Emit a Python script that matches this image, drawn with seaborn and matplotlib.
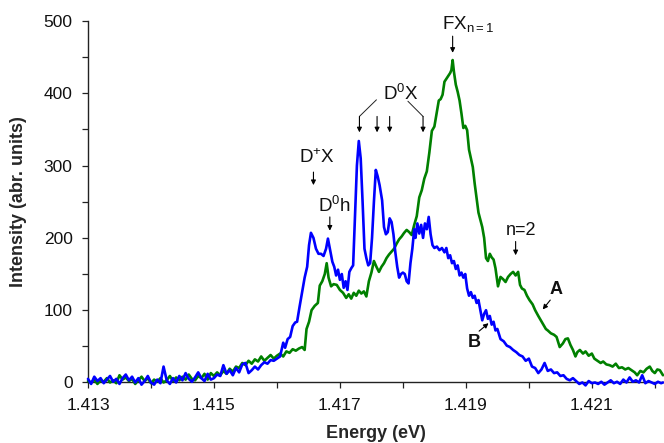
import numpy as np
import pandas as pd
import matplotlib
matplotlib.use("Agg")
import matplotlib.pyplot as plt
from matplotlib.ticker import FixedLocator, FormatStrFormatter
import seaborn as sns

# ---- photoluminescence spectra (energy in eV, intensity in arbitrary units) ----
energy_a = [
    1.41300, 1.41305, 1.41310, 1.41315, 1.41320, 1.41325, 1.41330, 1.41335, 1.41340, 1.41345,
    1.41350, 1.41355, 1.41360, 1.41365, 1.41370, 1.41375, 1.41380, 1.41385, 1.41390, 1.41395,
    1.41400, 1.41405, 1.41410, 1.41415, 1.41420, 1.41425, 1.41430, 1.41435, 1.41440, 1.41445,
    1.41450, 1.41455, 1.41460, 1.41465, 1.41470, 1.41475, 1.41480, 1.41485, 1.41490, 1.41495,
    1.41500, 1.41505, 1.41510, 1.41515, 1.41520, 1.41525, 1.41530, 1.41535, 1.41540, 1.41545,
    1.41550, 1.41555, 1.41560, 1.41565, 1.41570, 1.41575, 1.41580, 1.41585, 1.41590, 1.41595,
    1.41600, 1.41605, 1.41610, 1.41615, 1.41620, 1.41625, 1.41630, 1.41635, 1.41640, 1.41644,
    1.41647, 1.41651, 1.41655, 1.41660, 1.41665, 1.41668, 1.41672, 1.41676, 1.41679, 1.41682,
    1.41686, 1.41690, 1.41695, 1.41700, 1.41705, 1.41710, 1.41714, 1.41718, 1.41722, 1.41726,
    1.41730, 1.41734, 1.41738, 1.41742, 1.41746, 1.41750, 1.41754, 1.41758, 1.41762, 1.41766,
    1.41770, 1.41774, 1.41778, 1.41782, 1.41786, 1.41790, 1.41794, 1.41798, 1.41802, 1.41806,
    1.41810, 1.41814, 1.41818, 1.41822, 1.41826, 1.41830, 1.41834, 1.41838, 1.41842, 1.41846,
    1.41850, 1.41854, 1.41857, 1.41860, 1.41863, 1.41866, 1.41869, 1.41872, 1.41875, 1.41877,
    1.41879, 1.41881, 1.41884, 1.41887, 1.41890, 1.41893, 1.41896, 1.41899, 1.41902, 1.41905,
    1.41908, 1.41911, 1.41914, 1.41917, 1.41920, 1.41923, 1.41926, 1.41929, 1.41932, 1.41935,
    1.41938, 1.41941, 1.41944, 1.41947, 1.41951, 1.41955, 1.41959, 1.41963, 1.41967, 1.41971,
    1.41975, 1.41979, 1.41983, 1.41986, 1.41989, 1.41993, 1.41997, 1.42001, 1.42006, 1.42010,
    1.42015, 1.42019, 1.42023, 1.42027, 1.42030, 1.42035, 1.42040, 1.42044, 1.42049, 1.42054,
    1.42058, 1.42062, 1.42066, 1.42070, 1.42074, 1.42077, 1.42081, 1.42086, 1.42090, 1.42095,
    1.42100, 1.42104, 1.42109, 1.42114, 1.42118, 1.42123, 1.42128, 1.42133, 1.42138, 1.42143,
    1.42148, 1.42153, 1.42158, 1.42163, 1.42168, 1.42172, 1.42177, 1.42182, 1.42187, 1.42192,
    1.42196, 1.42200, 1.42204, 1.42208, 1.42213,
]
intensity_a = [
    2, 0, 4, -2, 3, 1, 6, 0, 3, -1,
    10, 4, 7, 2, 5, -2, 3, 8, 2, 6,
    -1, 4, 1, 6, 0, 3, 9, 2, 7, 3,
    8, 4, 11, 5, 3, 9, 6, 12, 4, 13,
    9, 14, 10, 16, 12, 19, 15, 22, 20, 27,
    24, 30, 26, 32, 29, 36, 30, 34, 38, 33,
    37, 40, 36, 43, 41, 46, 44, 47, 49, 45,
    74, 84, 100, 106, 110, 134, 140, 150, 165, 145,
    133, 136, 135, 128, 124, 117, 122, 116, 124, 120,
    127, 123, 126, 119, 140, 152, 168, 160, 153, 160,
    165, 172, 177, 181, 185, 192, 198, 202, 207, 211,
    208, 204, 218, 230, 256, 266, 282, 292, 318, 348,
    354, 375, 390, 392, 398, 416, 420, 424, 428, 432,
    446, 430, 412, 402, 390, 372, 352, 355, 349, 322,
    310, 298, 275, 255, 235, 225, 215, 200, 172, 168,
    178, 173, 170, 158, 133, 146, 143, 139, 146, 150,
    153, 148, 153, 135, 130, 128, 120, 114, 108, 100,
    92, 86, 80, 74, 72, 68, 66, 63, 49, 54,
    60, 61, 52, 45, 36, 42, 45, 40, 43, 37,
    40, 33, 30, 27, 29, 25, 24, 22, 26, 20,
    21, 18, 20, 17, 14, 10, 16, 14, 19, 22,
    16, 13, 18, 17, 10,
]

energy_b = [
    1.41300, 1.41305, 1.41310, 1.41315, 1.41320, 1.41325, 1.41330, 1.41335, 1.41340, 1.41345,
    1.41350, 1.41355, 1.41360, 1.41365, 1.41370, 1.41375, 1.41380, 1.41385, 1.41390, 1.41395,
    1.41400, 1.41405, 1.41410, 1.41415, 1.41420, 1.41425, 1.41430, 1.41435, 1.41440, 1.41445,
    1.41450, 1.41455, 1.41460, 1.41465, 1.41470, 1.41475, 1.41480, 1.41485, 1.41490, 1.41495,
    1.41500, 1.41505, 1.41510, 1.41515, 1.41520, 1.41525, 1.41530, 1.41535, 1.41540, 1.41545,
    1.41550, 1.41555, 1.41560, 1.41565, 1.41570, 1.41575, 1.41580, 1.41585, 1.41590, 1.41595,
    1.41600, 1.41605, 1.41610, 1.41613, 1.41617, 1.41621, 1.41625, 1.41629, 1.41632, 1.41636,
    1.41640, 1.41644, 1.41648, 1.41651, 1.41654, 1.41658, 1.41662, 1.41666, 1.41670, 1.41674,
    1.41678, 1.41681, 1.41684, 1.41688, 1.41691, 1.41694, 1.41697, 1.41700, 1.41703, 1.41706,
    1.41709, 1.41712, 1.41715, 1.41718, 1.41721, 1.41724, 1.41727, 1.41730, 1.41733, 1.41736,
    1.41739, 1.41742, 1.41745, 1.41748, 1.41751, 1.41754, 1.41757, 1.41760, 1.41763, 1.41767,
    1.41770, 1.41773, 1.41776, 1.41779, 1.41782, 1.41785, 1.41788, 1.41791, 1.41794, 1.41797,
    1.41800, 1.41803, 1.41806, 1.41809, 1.41812, 1.41815, 1.41818, 1.41820, 1.41823, 1.41826,
    1.41829, 1.41832, 1.41835, 1.41838, 1.41841, 1.41844, 1.41847, 1.41850, 1.41854, 1.41858,
    1.41862, 1.41866, 1.41869, 1.41872, 1.41875, 1.41878, 1.41881, 1.41884, 1.41887, 1.41890,
    1.41893, 1.41896, 1.41899, 1.41902, 1.41905, 1.41908, 1.41911, 1.41914, 1.41917, 1.41920,
    1.41923, 1.41926, 1.41929, 1.41932, 1.41935, 1.41938, 1.41941, 1.41944, 1.41947, 1.41950,
    1.41955, 1.41960, 1.41965, 1.41970, 1.41975, 1.41980, 1.41985, 1.41990, 1.41995, 1.42000,
    1.42005, 1.42010, 1.42015, 1.42020, 1.42025, 1.42030, 1.42035, 1.42040, 1.42045, 1.42050,
    1.42055, 1.42060, 1.42065, 1.42070, 1.42075, 1.42080, 1.42085, 1.42090, 1.42095, 1.42100,
    1.42105, 1.42110, 1.42115, 1.42120, 1.42125, 1.42130, 1.42135, 1.42140, 1.42145, 1.42150,
    1.42155, 1.42160, 1.42165, 1.42170, 1.42175, 1.42180, 1.42185, 1.42190, 1.42195, 1.42200,
    1.42205, 1.42210, 1.42213,
]
intensity_b = [
    5, -2, 8, 2, 6, -1, 4, 9, 1, 5,
    -2, 6, 11, 3, 8, 0, 6, -3, 2, 9,
    0, -3, 4, -1, 22, 3, -2, 6, 0, 9,
    3, 13, 5, 1, 7, 14, 6, 2, 12, 4,
    6, 11, 9, 24, 12, 17, 10, 20, 14, 25,
    27, 13, 17, 22, 18, 24, 28, 26, 31, 30,
    33, 36, 55, 48, 60, 63, 78, 83, 84, 105,
    125, 145, 160, 190, 207, 200, 185, 178, 178, 175,
    185, 199, 185, 167, 160, 148, 156, 142, 150, 131,
    140, 128, 153, 158, 162, 230, 300, 334, 310, 250,
    185, 172, 162, 165, 200, 250, 294, 285, 273, 252,
    215, 205, 208, 227, 222, 205, 180, 160, 145, 150,
    152, 150, 140, 137, 165, 185, 212, 200, 220, 206,
    218, 200, 220, 212, 229, 205, 190, 186, 188, 183,
    186, 180, 186, 172, 176, 165, 168, 157, 162, 148,
    152, 145, 150, 130, 120, 125, 117, 120, 110, 114,
    100, 86, 95, 100, 88, 92, 80, 84, 72, 74,
    60, 57, 51, 49, 45, 42, 38, 36, 30, 33,
    22, 20, 13, 18, 27, 16, 18, 13, 14, 9,
    10, 5, 3, 6, 2, -2, 0, -4, 2, -1,
    0, -2, 1, -3, 0, 3, -1, 1, -2, 4,
    0, 7, 1, 3, 0, 10, -1, 2, 0, -2,
    1, -1, 0,
]

series_labels = ["A", "B"]
series_colors = ["#008000", "#0000FF"]

energy_ticks = [1.413, 1.415, 1.417, 1.419, 1.421]
energy_minor_ticks = [1.414, 1.416, 1.418, 1.420, 1.422]
intensity_ticks = [0, 100, 200, 300, 400, 500]
intensity_minor_ticks = [50, 150, 250, 350, 450]

frames = [
    pd.DataFrame({"Energy (eV)": energy_a, "Intensity": intensity_a, "sample": "A"}),
    pd.DataFrame({"Energy (eV)": energy_b, "Intensity": intensity_b, "sample": "B"}),
]
spectra = pd.concat(frames, ignore_index=True)

sns.set_theme(style="ticks")
plt.rcParams["font.family"] = ["Liberation Sans", "DejaVu Sans"]
plt.rcParams["mathtext.fontset"] = "custom"
plt.rcParams["mathtext.rm"] = "Liberation Sans"
plt.rcParams["mathtext.it"] = "Liberation Sans"

fig = plt.figure(figsize=(6.64, 4.43), dpi=100)
ax = fig.add_axes([0.1325, 0.1366, 0.866, 0.816])

sns.lineplot(
    data=spectra, x="Energy (eV)", y="Intensity", hue="sample",
    palette=dict(zip(series_labels, series_colors)), hue_order=series_labels,
    estimator=None, sort=False, linewidth=1.9, legend=False, ax=ax,
)
for line in ax.lines:
    line.set_clip_on(False)
    line.set_solid_joinstyle("round")

ax.set_xlim(1.413, 1.42213)
ax.set_ylim(0, 500)
ax.xaxis.set_major_locator(FixedLocator(energy_ticks))
ax.xaxis.set_minor_locator(FixedLocator(energy_minor_ticks))
ax.xaxis.set_major_formatter(FormatStrFormatter("%.3f"))
ax.yaxis.set_major_locator(FixedLocator(intensity_ticks))
ax.yaxis.set_minor_locator(FixedLocator(intensity_minor_ticks))

for side in ("top", "right"):
    ax.spines[side].set_visible(False)
for side in ("left", "bottom"):
    ax.spines[side].set_color("#222222")
    ax.spines[side].set_linewidth(1.0)
    ax.spines[side].set_zorder(0.5)

ax.tick_params(which="both", direction="out", length=4.5, width=0.9,
               color="#222222", labelsize=12.5, labelcolor="#111111", pad=6.5)
ax.tick_params(axis="x", pad=6.5)

ax.set_xlabel("Energy (eV)", fontsize=13, fontweight="bold", labelpad=9)
ax.set_ylabel("Intensity (abr. units)", fontsize=13, fontweight="bold", labelpad=12)

arrow_kw = dict(arrowstyle="-|>", color="black", lw=0.8, mutation_scale=7,
                shrinkA=0, shrinkB=0)
txt = dict(color="#111111", fontsize=13.5)

# free exciton n=1
ax.text(1.41862, 489, r"FX$_{\mathregular{n{=}1}}$", ha="left", va="baseline", **txt)
ax.annotate("", xy=(1.41879, 456), xytext=(1.41879, 479), arrowprops=arrow_kw)

# neutral donor bound exciton lines with bracket
ax.text(1.41796, 391, r"D$^{\mathregular{0}}$X", ha="center", va="baseline", **txt)
ax.plot([1.41758, 1.41731], [391, 368], color="#222222", lw=0.7, clip_on=False)
ax.plot([1.41808, 1.41832], [389, 368], color="#222222", lw=0.7, clip_on=False)
for ex in (1.41731, 1.41759, 1.41779, 1.41832):
    ax.annotate("", xy=(ex, 346), xytext=(ex, 368), arrowprops=arrow_kw)

# ionized donor bound exciton
ax.text(1.41663, 303, r"D$^{\mathregular{+}}$X", ha="center", va="baseline", **txt)
ax.annotate("", xy=(1.41658, 273), xytext=(1.41658, 291), arrowprops=arrow_kw)

# donor - hole
ax.text(1.41692, 236, r"D$^{\mathregular{0}}$h", ha="center", va="baseline", **txt)
ax.annotate("", xy=(1.41684, 210), xytext=(1.41684, 229), arrowprops=arrow_kw)

# excited state of the free exciton
ax.text(1.41987, 204, "n=2", ha="center", va="baseline", color="#111111", fontsize=13)
ax.annotate("", xy=(1.41979, 176), xytext=(1.41979, 195), arrowprops=arrow_kw)

# sample labels
ax.text(1.42043, 129, "A", ha="center", va="center", fontsize=13, fontweight="bold", color="#111111")
ax.annotate("", xy=(1.42022, 101), xytext=(1.42034, 114), arrowprops=arrow_kw)
ax.text(1.41914, 55, "B", ha="center", va="center", fontsize=13, fontweight="bold", color="#111111")
ax.annotate("", xy=(1.41936, 82), xytext=(1.41921, 71), arrowprops=arrow_kw)

fig.savefig("out.png", dpi=100)
